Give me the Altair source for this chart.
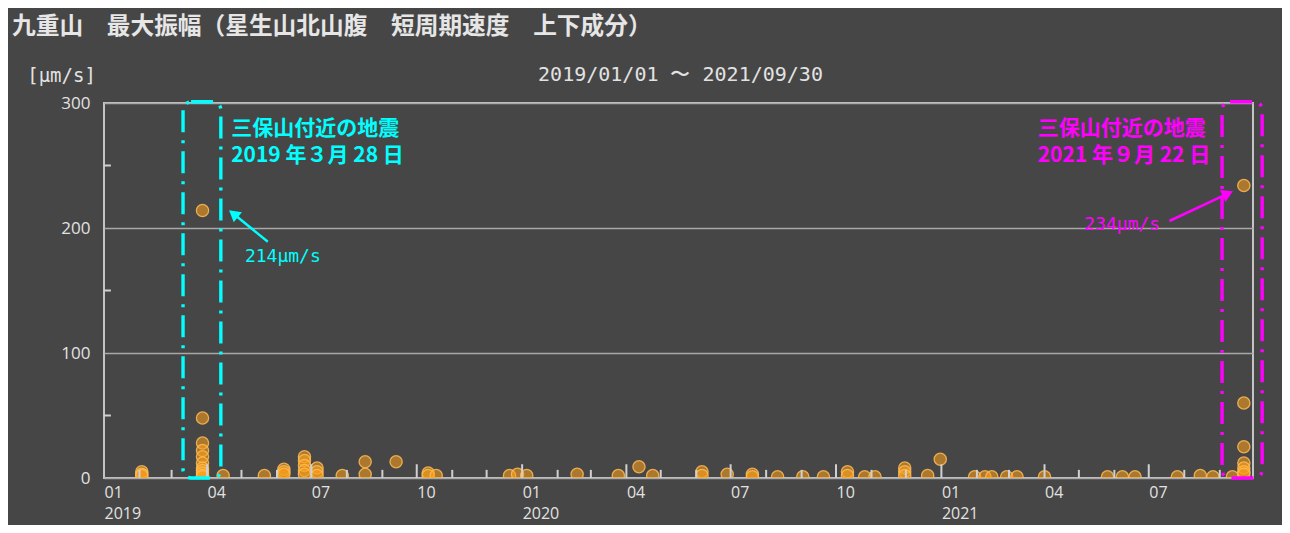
import altair as alt
import pandas as pd

# ---------------- text ----------------
title_text = "九重山　最大振幅（星生山北山腹　短周期速度　上下成分）"
period_text = "2019/01/01 〜 2021/09/30"
unit_text = "[μm/s]"

# ---------------- observations (date, amplitudes of that day in μm/s) ----------------
obs_dates = [
    "2019-02-03", "2019-03-28", "2019-04-15", "2019-05-21", "2019-06-07",
    "2019-06-25", "2019-07-06", "2019-07-28", "2019-08-17", "2019-09-13",
    "2019-10-11", "2019-10-18", "2019-12-21", "2019-12-28", "2020-01-05",
    "2020-02-18", "2020-03-25", "2020-04-12", "2020-04-24", "2020-06-06",
    "2020-06-28", "2020-07-20", "2020-08-11", "2020-09-02", "2020-09-20",
    "2020-10-11", "2020-10-26", "2020-11-04", "2020-11-30", "2020-12-20",
    "2020-12-31", "2021-01-30", "2021-02-08", "2021-02-14", "2021-02-27",
    "2021-03-08", "2021-04-01", "2021-05-26", "2021-06-08", "2021-06-19",
    "2021-07-26", "2021-08-15", "2021-08-26", "2021-09-12", "2021-09-22",
]
obs_values = [
    [5, 3, 2], [214, 48, 28, 22, 17, 12, 8, 6, 4, 2, 1], [2], [2], [7, 5, 3],
    [17, 14, 10, 6, 3], [8, 5, 2], [2], [13, 3], [13],
    [4, 2], [2], [2], [3], [2],
    [3], [2], [9], [2], [5, 2],
    [3], [3, 1], [1], [1], [1],
    [5, 2], [1], [1], [8, 5, 2], [2],
    [15], [1], [1], [1], [1],
    [1], [1], [1], [1], [1],
    [1], [2], [1], [1], [234, 60, 25, 12, 8, 5, 3],
]

# ---------------- annotations ----------------
quake1_lines = ["三保山付近の地震", "2019 年３月 28 日"]
quake2_lines = ["三保山付近の地震", "2021 年９月 22 日"]
quake1_label = "214μm/s"
quake2_label = "234μm/s"

# ---------------- tables ----------------
flat_dates, flat_values = [], []
for d, vs in zip(obs_dates, obs_values):
    for v in vs:
        flat_dates.append(d)
        flat_values.append(v)
pts = pd.DataFrame({"date": flat_dates, "value": flat_values})

quarter_ticks = [d.strftime("%Y-%m-%d") for d in pd.date_range("2019-04-01", "2021-07-01", freq="QS-JAN")]
month_ticks = [d.strftime("%Y-%m-%d") for d in pd.date_range("2019-02-01", "2021-09-01", freq="MS")
               if d.month not in (1, 4, 7, 10)]
y_minor = [50, 150, 250]

CYAN = "#00ffff"
MAGENTA = "#ff00ff"
BG = "#464646"
FG = "#e2e2e2"
W, H = 1149, 375

x_scale = alt.Scale(type="utc", domain=[alt.DateTime(year=2019, month=1, date=1, utc=True),
                                         alt.DateTime(year=2021, month=9, date=30, utc=True)])
y_scale = alt.Scale(domain=[0, 300], nice=False)

x_axis = alt.Axis(
    title=None, tickCount={"interval": "month", "step": 3},
    labelExpr="[utcFormat(datum.value, '%m'), utcmonth(datum.value) == 0 ? utcFormat(datum.value, '%Y') : '']",
    ticks=False, domain=False, grid=False, labelAlign="left", labelBaseline="top",
    labelPadding=6, labelLineHeight=21, labelFont="Open Sans", labelFontSize=16,
    labelColor=FG, labelFlush=False, labelOverlap=False, labelBound=False,
)
y_axis = alt.Axis(
    title=unit_text, values=[0, 100, 200, 300], grid=True, gridColor="#a8a8a8", gridWidth=1.6,
    ticks=False, domain=False, labelPadding=14, labelFont="Open Sans", labelFontSize=17,
    labelColor=FG, titleAngle=0, titleX=-43, titleY=-28, titleAlign="center",
    titleBaseline="middle", titleFont="DejaVu Sans Mono", titleFontSize=19,
    titleFontWeight="normal", titleColor=FG,
)


def X(field="date"):
    return alt.X(f"{field}:T", scale=x_scale, axis=x_axis)


def Y(field="value"):
    return alt.Y(f"{field}:Q", scale=y_scale, axis=y_axis)


points = alt.Chart(pts).mark_circle(
    size=150, color="#ffa31a", fillOpacity=0.55, stroke="#ffbb55", strokeWidth=1.3,
    strokeOpacity=0.85, clip=True,
).encode(x=X(), y=Y())

qt = alt.Chart(pd.DataFrame({"date": quarter_ticks})).mark_rule(color="#d0d0d0", strokeWidth=2).encode(
    x=X(), y=alt.datum(0), y2=alt.datum(11))
mt = alt.Chart(pd.DataFrame({"date": month_ticks})).mark_rule(color="#d0d0d0", strokeWidth=2).encode(
    x=X(), y=alt.datum(0), y2=alt.datum(6.5))
yt = alt.Chart(pd.DataFrame({"value": y_minor})).mark_rule(color="#d0d0d0", strokeWidth=2).encode(
    y=Y(), x=alt.datum(alt.DateTime(year=2019, month=1, date=1, utc=True)),
    x2=alt.datum(alt.DateTime(year=2019, month=1, date=7, utc=True)))


def box(d1, d2, color):
    df = pd.DataFrame({"date": [d1], "date2": [d2], "value": [0], "value2": [301]})
    return alt.Chart(df).mark_rect(
        fillOpacity=0, stroke=color, strokeWidth=3.4, strokeDash=[22, 8, 3, 8], cornerRadius=8
    ).encode(x=X(), x2="date2:T", y=Y(), y2="value2:Q")


def arrow(d1, v1, d2, v2, ang, color):
    line_df = pd.DataFrame({"date": [d1], "date2": [d2], "value": [v1], "value2": [v2]})
    head_df = pd.DataFrame({"date": [d2], "value": [v2]})
    line = alt.Chart(line_df).mark_rule(color=color, strokeWidth=2.5).encode(
        x=X(), x2="date2:T", y=Y(), y2="value2:Q")
    head = alt.Chart(head_df).mark_point(
        shape="triangle-up", filled=True, color=color, opacity=1, size=170, angle=ang
    ).encode(x=X(), y=Y())
    return line + head


def label_block(date, lines, values, color):
    df = pd.DataFrame({"date": [date] * len(lines), "value": values, "t": lines})
    return alt.Chart(df).mark_text(
        font="Noto Sans CJK JP", fontSize=21, fontWeight="bold", color=color,
        align="left", baseline="middle",
    ).encode(x=X(), y=Y(), text="t:N")


def value_label(date, value, text, color, align):
    df = pd.DataFrame({"date": [date], "value": [value], "t": [text]})
    return alt.Chart(df).mark_text(
        font="DejaVu Sans Mono", fontSize=18, color=color, align=align, baseline="middle",
    ).encode(x=X(), y=Y(), text="t:N")


title = alt.Chart(pd.DataFrame({"t": [title_text]})).mark_text(
    font="Noto Sans CJK JP", fontSize=23.7, fontWeight="bold", color="#e6e6e6",
    align="left", baseline="middle",
).encode(x=alt.value(-92), y=alt.value(-76), text="t:N")

period = alt.Chart(pd.DataFrame({"t": [period_text]})).mark_text(
    font="DejaVu Sans Mono", fontSize=20, color=FG, align="center", baseline="middle",
).encode(x=alt.value(W / 2 + 2), y=alt.value(-28), text="t:N")

chart = alt.layer(
    points, qt, mt, yt,
    box("2019-03-11", "2019-04-13", CYAN),
    box("2021-09-03", "2021-10-08", MAGENTA),
    arrow("2019-05-24", 189, "2019-04-24", 211.4, 309, CYAN),
    arrow("2021-07-19", 205.6, "2021-09-08", 227.5, 65, MAGENTA),
    label_block("2019-04-22", quake1_lines, [279.6, 257.6], CYAN),
    label_block("2021-03-26", quake2_lines, [279.6, 257.6], MAGENTA),
    value_label("2019-05-04", 177, quake1_label, CYAN, "left"),
    value_label("2021-07-11", 202.4, quake2_label, MAGENTA, "right"),
    title, period,
).properties(
    width=W, height=H,
    padding={"left": 96, "top": 95, "right": 29, "bottom": 47},
    autosize=alt.AutoSizeParams(type="none"),
    background=BG,
).configure_view(stroke="#c4c4c4", strokeWidth=2)

chart.save("out.html", embed_options={"renderer": "svg", "actions": False})
